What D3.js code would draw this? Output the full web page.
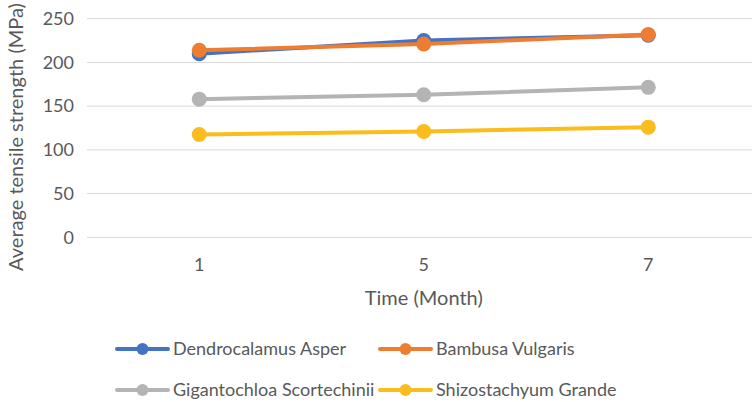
<!DOCTYPE html>
<html>
<head>
<meta charset="utf-8">
<script src="https://cdn.jsdelivr.net/npm/d3@7"></script>
<style>
  html, body { margin: 0; padding: 0; background: #fff; }
  svg { display: block; }
  text { font-family: Lato, "Open Sans", sans-serif; fill: #595959; }
</style>
</head>
<body>
<svg id="chart" width="752" height="402"></svg>
<script>
// Tensile strength of four bamboo species over time
const months = ["1", "5", "7"];
const seriesNames = ["Dendrocalamus Asper", "Bambusa Vulgaris", "Gigantochloa Scortechinii", "Shizostachyum Grande"];
const dendrocalamus = [210, 225, 231];
const bambusa = [214, 221, 232];
const gigantochloa = [158, 163, 171.5];
const shizostachyum = [117.5, 121, 126];
const yTicks = [0, 50, 100, 150, 200, 250];
const colors = ["#4472C4", "#ED7D31", "#B4B4B4", "#FBBD1E"];

const series = [dendrocalamus, bambusa, gigantochloa, shizostachyum].map((v, i) => ({
  name: seriesNames[i], values: v, color: colors[i]
}));

const svg = d3.select("#chart");
const margin = { left: 87, right: -8.5, top: 18.7, bottom: 402 - 237.3 };
const W = 752, H = 402;
const FS = 18;      // tick labels and legend
const TITLE_FS = 20; // axis titles

const x = d3.scaleBand().domain(months).range([margin.left, W - margin.right]);
const y = d3.scaleLinear().domain([0, 250]).range([H - margin.bottom, margin.top]);

// Gridlines
svg.append("g").selectAll("line").data(yTicks).join("line")
  .attr("x1", margin.left).attr("x2", W)
  .attr("y1", d => y(d)).attr("y2", d => y(d))
  .attr("stroke", "#D9D9D9").attr("stroke-width", 1);

// Y tick labels
svg.append("g").selectAll("text").data(yTicks).join("text")
  .attr("x", 74).attr("y", d => y(d)).attr("dy", "0.35em")
  .attr("text-anchor", "end").attr("font-size", FS).text(d => d);

// X tick labels
svg.append("g").selectAll("text").data(months).join("text")
  .attr("x", d => x(d) + x.bandwidth() / 2).attr("y", 265).attr("dy", "0.35em")
  .attr("text-anchor", "middle").attr("font-size", FS).text(d => d);

// Axis titles
const plotCenter = (x.range()[0] + x.range()[1]) / 2;
svg.append("text").attr("x", plotCenter).attr("y", 298).attr("dy", "0.35em")
  .attr("text-anchor", "middle").attr("font-size", TITLE_FS).text("Time (Month)");
svg.append("text")
  .attr("transform", "translate(23,137) rotate(-90)")
  .attr("text-anchor", "middle").attr("font-size", TITLE_FS)
  .text("Average tensile strength (MPa)");

// Lines and markers
const line = d3.line()
  .x((d, i) => x(months[i]) + x.bandwidth() / 2)
  .y(d => y(d));

const g = svg.append("g");
series.forEach(s => {
  g.append("path").datum(s.values)
    .attr("d", line).attr("fill", "none")
    .attr("stroke", s.color).attr("stroke-width", 4)
    .attr("stroke-linecap", "round").attr("stroke-linejoin", "round");
  g.selectAll(null).data(s.values).join("circle")
    .attr("cx", (d, i) => x(months[i]) + x.bandwidth() / 2)
    .attr("cy", d => y(d)).attr("r", 7.5)
    .attr("fill", s.color);
});

// Legend
const legendPos = [[117, 349], [380, 349], [117, 390], [380, 390]];
const lg = svg.append("g");
series.forEach((s, i) => {
  const [lx, ly] = legendPos[i];
  lg.append("line").attr("x1", lx).attr("x2", lx + 51)
    .attr("y1", ly).attr("y2", ly)
    .attr("stroke", s.color).attr("stroke-width", 4).attr("stroke-linecap", "round");
  lg.append("circle").attr("cx", lx + 25.5).attr("cy", ly).attr("r", 6).attr("fill", s.color);
  lg.append("text").attr("x", lx + 56).attr("y", ly).attr("dy", "0.35em")
    .attr("font-size", FS).text(s.name);
});
</script>
</body>
</html>
